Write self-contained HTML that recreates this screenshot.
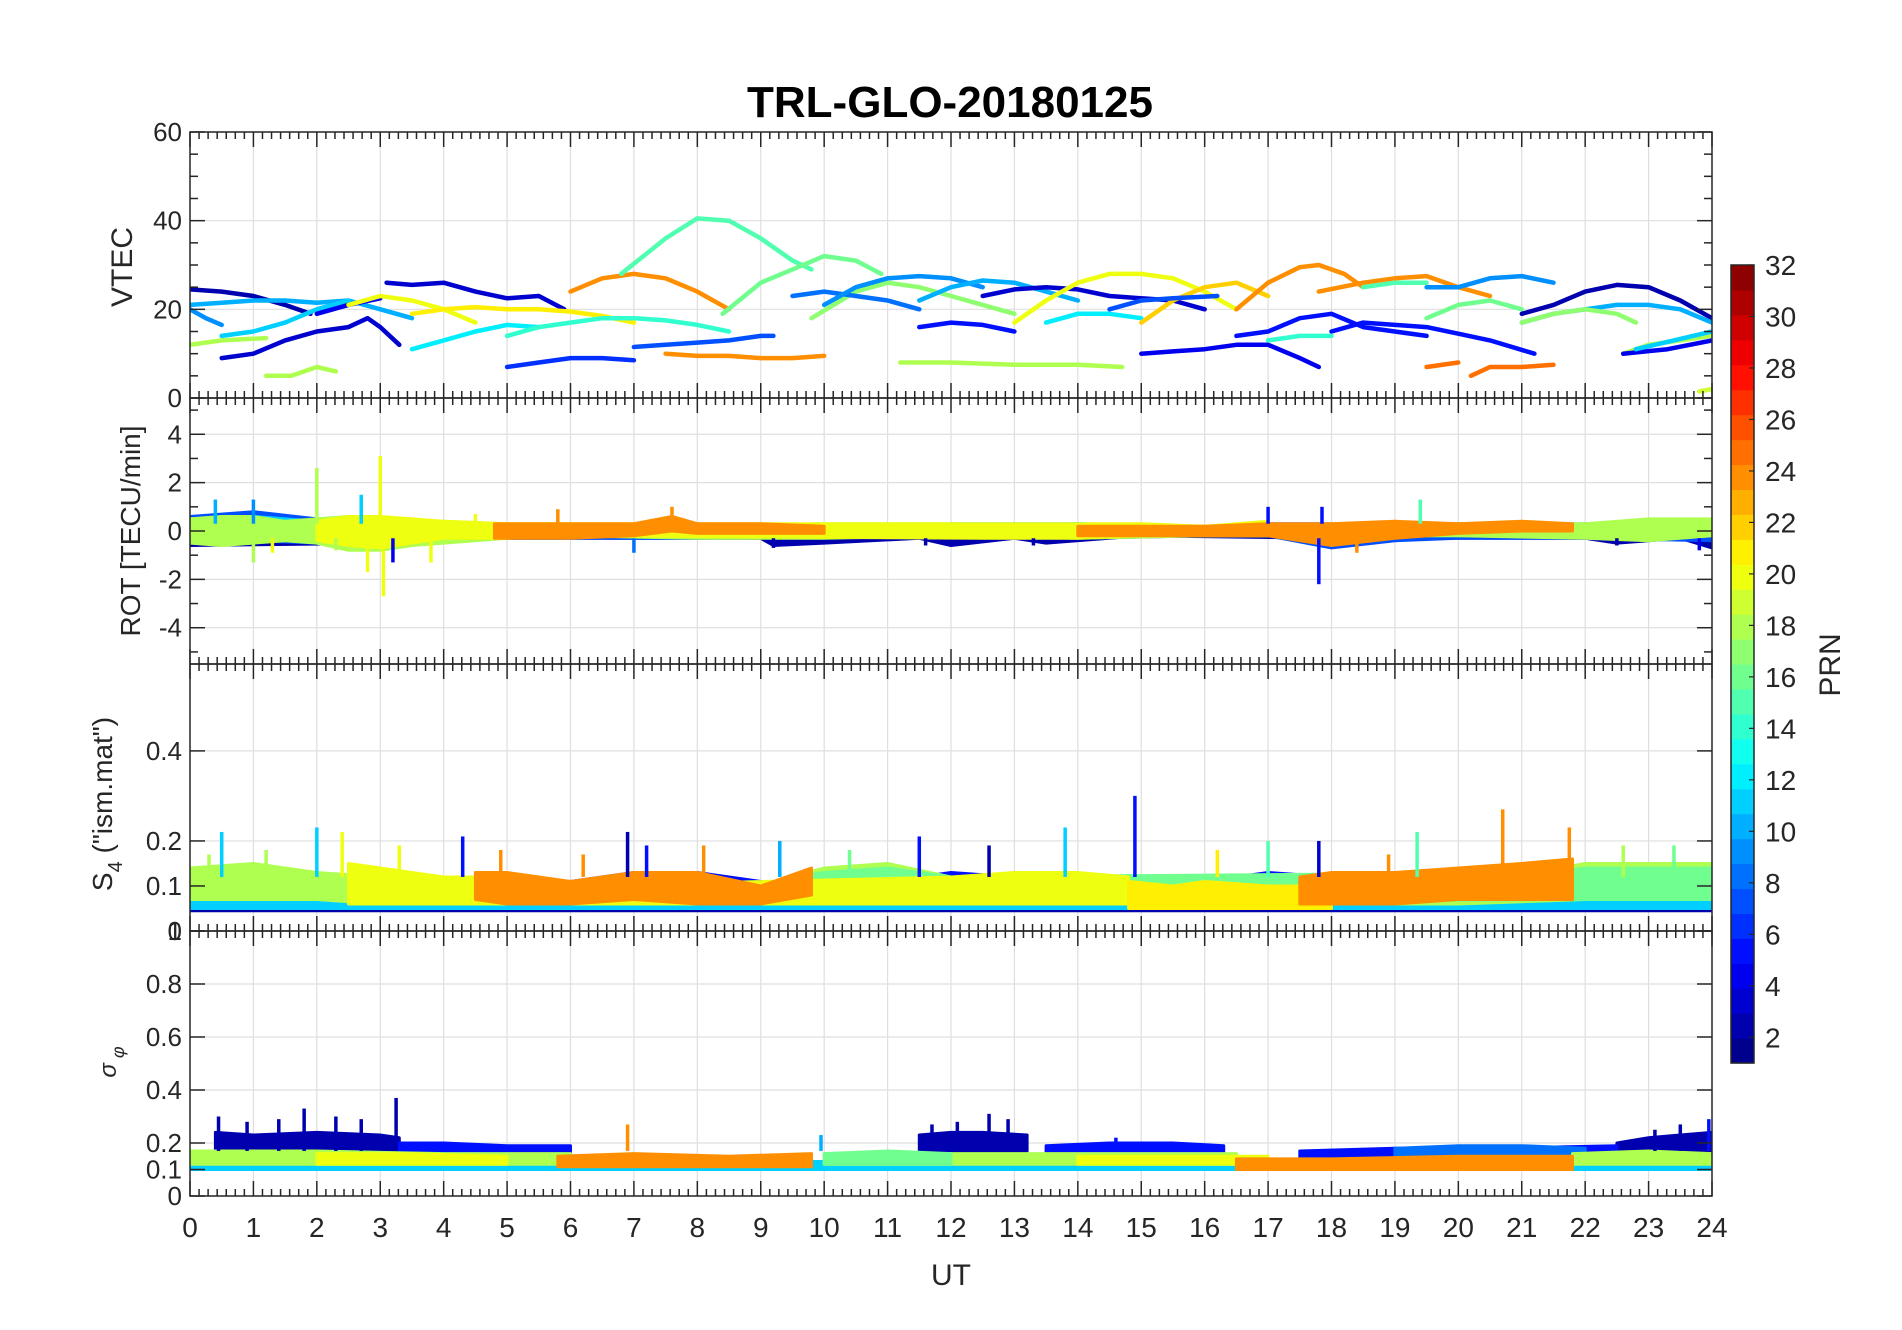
<!DOCTYPE html>
<html><head><meta charset="utf-8"><title>TRL-GLO-20180125</title>
<style>
html,body{margin:0;padding:0;background:#fff;}
svg{display:block;font-family:"Liberation Sans",Arial,sans-serif;}
</style></head>
<body>
<svg id="fig" width="1902" height="1330" viewBox="0 0 1902 1330" xmlns="http://www.w3.org/2000/svg">
<rect x="0" y="0" width="1902" height="1330" fill="#fff"/>
<text x="950" y="117" font-size="44" font-weight="bold" text-anchor="middle" fill="#000">TRL-GLO-20180125</text>
<text transform="translate(132,267) rotate(-90)" font-size="30" text-anchor="middle" fill="#262626">VTEC</text>
<text transform="translate(140,531) rotate(-90)" font-size="28" text-anchor="middle" fill="#262626">ROT [TECU/min]</text>
<text transform="translate(112,804) rotate(-90)" font-size="28" text-anchor="middle" fill="#262626">S<tspan font-size="20" dy="10">4</tspan><tspan dy="-10"> ("ism.mat")</tspan></text>
<text transform="translate(116,1062) rotate(-90)" font-size="24" font-style="italic" text-anchor="middle" fill="#262626">σ<tspan font-size="18" dy="8"> φ</tspan></text>
<text x="951" y="1285" font-size="30" text-anchor="middle" fill="#262626">UT</text>
<text transform="translate(1840,665) rotate(-90)" font-size="30" text-anchor="middle" fill="#262626">PRN</text>
</svg>
<script>
// ---------- VTEC arcs ----------
const arcPrns = [2,3,9,10,11,18,18,4,3,20,21,12,14,6,24,15,24,7,16,17,8,9,10,5,3,18,20,12,4,22,24,5,5,7,14,24,15,9,16,25,25,2,10,17,18,4,11,19];
const arcHours = [
 [0,0.5,1,1.5,1.9],
 [0.5,1,1.5,2,2.5,2.8,3.0,3.3],
 [0,0.25,0.5],
 [0,0.5,1,1.5,2,2.5,3,3.5],
 [0.5,1,1.5,2,2.5],
 [0,0.5,1.2],
 [1.2,1.6,2,2.3],
 [2.0,2.5,3.0],
 [3.1,3.5,4,4.5,5,5.5,5.9],
 [2.5,3,3.5,4,4.5],
 [3.5,4,4.5,5,5.5,6,6.5,7],
 [3.5,4,4.5,5,5.5],
 [5,5.5,6,6.5,7,7.5,8,8.5],
 [5,5.5,6,6.5,7],
 [6,6.5,7,7.5,8,8.5],
 [6.8,7.5,8,8.5,9,9.5,9.8],
 [7.5,8,8.5,9,9.5,10],
 [7,7.5,8,8.5,9,9.2],
 [8.4,9,9.5,10,10.5,10.9],
 [9.8,10.5,11,11.5,12,12.5,13],
 [9.5,10,10.5,11,11.5],
 [10,10.5,11,11.5,12,12.5],
 [11.5,12,12.5,13,13.5,14],
 [11.5,12,12.5,13],
 [12.5,13,13.5,14,14.5,15.5,16],
 [11.2,12,13,14,14.7],
 [13,13.5,14,14.5,15,15.5,16,16.5],
 [13.5,14,14.5,15],
 [15,15.5,16,16.5,17,17.5,17.8],
 [15,15.5,16,16.5,17],
 [16.5,17,17.5,17.8,18.2,18.5],
 [16.5,17,17.5,18,18.5,19,19.5],
 [18,18.5,19,19.5,20,20.5,21.2],
 [14.5,15,15.5,16.2],
 [17,17.5,18],
 [17.8,18.5,19,19.5,20,20.5],
 [18.5,19,19.5],
 [19.5,20,20.5,21,21.5],
 [19.5,20,20.5,21],
 [19.5,20],
 [20.2,20.5,21,21.5],
 [21,21.5,22,22.5,23,23.5,24],
 [21,21.5,22,22.5,23,23.5,24],
 [21,21.5,22,22.5,22.8],
 [22.6,23,23.5,24],
 [22.6,23.3,24],
 [22.8,23.4,24],
 [23.8,24]
];
const arcVtec = [
 [24.5,24,23,21,19],
 [9,10,13,15,16,18,16,12],
 [20,18,16.5],
 [21,21.5,22,22,21.5,22,20,18],
 [14,15,17,20,22],
 [12,13,13.5],
 [5,5,7,6],
 [19,21,22.5],
 [26,25.5,26,24,22.5,23,20],
 [21,23,22,20,17],
 [19,20,20.5,20,20,19.5,18.5,17],
 [11,13,15,16.5,16],
 [14,16,17,18,18,17.5,16.5,15],
 [7,8,9,9,8.5],
 [24,27,28,27,24,20],
 [28,36,40.5,40,36,31,29],
 [10,9.5,9.5,9,9,9.5],
 [11.5,12,12.5,13,14,14],
 [19,26,29,32,31,28],
 [18,24,26,25,23,21,19],
 [23,24,23,22,20],
 [21,25,27,27.5,27,25],
 [22,25,26.5,26,24,22],
 [16,17,16.5,15],
 [23,24.5,25,24.5,23,22,20],
 [8,8,7.5,7.5,7],
 [17,22,26,28,28,27,24,20],
 [17,19,19,18],
 [10,10.5,11,12,12,9,7],
 [17,22,25,26,23],
 [20,26,29.5,30,28,25],
 [14,15,18,19,16,15,14],
 [15,17,16.5,16,14.5,13,10],
 [20,22,22.5,23],
 [13,14,14],
 [24,26,27,27.5,25,23],
 [25,26,26],
 [25,25,27,27.5,26],
 [18,21,22,20],
 [7,8],
 [5,7,7,7.5],
 [19,21,24,25.5,25,22,18],
 [17,19,20,21,21,20,17],
 [17,19,20,19,17],
 [10,12,13,14],
 [10,11,13],
 [11,13,15],
 [1.5,2]
];

// ---------- ROT bands ----------
const rotPrns = [2,7,11,18,20,24,24];
const rotHours = [
 [0,3.5,4,6,9,9.2,10,11.5,12,13,13.5,15,18,20,22,22.5,23.5,24],
 [0,1,2,3,4,6,8,10,12,14,16,17,18,19,20,22,24],
 [0,1,2,3,4,6,8,10,12,14,16,18,20,22,24],
 [0,0.5,1,1.5,2,2.5,3,3.5,4,5,6,8,10,12,14,16,18,20,22,23,24],
 [2,2.5,3,3.5,4,5,6,12.5,13,14,15,16,17],
 [4.8,6,7,7.6,8,9,10],
 [14,16,17,18,19,20,21,21.8]
];
const rotLow = [
 [-0.6,-0.5,-0.3,-0.3,-0.3,-0.6,-0.5,-0.3,-0.6,-0.3,-0.5,-0.2,-0.3,-0.3,-0.3,-0.5,-0.3,-0.7],
 [-0.5,-0.4,-0.5,-0.4,-0.3,-0.3,-0.3,-0.2,-0.2,-0.3,-0.2,-0.2,-0.7,-0.4,-0.3,-0.3,-0.4],
 [-0.4,-0.4,-0.3,-0.4,-0.3,-0.2,-0.2,-0.2,-0.2,-0.2,-0.2,-0.2,-0.2,-0.2,-0.2],
 [-0.5,-0.6,-0.5,-0.4,-0.5,-0.8,-0.8,-0.6,-0.5,-0.3,-0.2,-0.3,-0.3,-0.2,-0.3,-0.2,-0.2,-0.2,-0.3,-0.4,-0.2],
 [-0.4,-0.6,-0.7,-0.5,-0.3,-0.3,-0.2,-0.3,-0.3,-0.3,-0.2,-0.2,-0.2],
 [-0.3,-0.3,-0.2,0,-0.1,-0.1,-0.1],
 [-0.2,-0.2,-0.2,-0.6,-0.3,-0.1,0,0]
];
const rotHigh = [
 [0.1,0.1,0.2,0.2,0.1,0.0,0.1,0.1,0.0,0.1,0.0,0.2,0.1,0.1,0.1,0.0,0.1,0.0],
 [0.6,0.8,0.5,0.5,0.3,0.2,0.2,0.2,0.2,0.3,0.2,0.3,0.3,0.3,0.3,0.2,0.4],
 [0.5,0.6,0.4,0.5,0.3,0.2,0.3,0.2,0.3,0.3,0.2,0.2,0.3,0.3,0.4],
 [0.5,0.6,0.6,0.4,0.5,0.6,0.5,0.4,0.4,0.3,0.3,0.2,0.3,0.3,0.2,0.2,0.3,0.3,0.3,0.5,0.5],
 [0.4,0.6,0.6,0.5,0.4,0.3,0.3,0.3,0.3,0.3,0.3,0.2,0.4],
 [0.3,0.3,0.3,0.6,0.3,0.3,0.2],
 [0.2,0.2,0.3,0.3,0.4,0.3,0.4,0.3]
];
const rotSpikeHours = [0.4,1.0,1.0,1.3,2.0,2.3,2.7,2.8,3.0,3.05,3.2,3.8,4.5,5.8,7.0,7.6,9.2,11.6,13.3,17.0,17.8,17.85,18.4,19.4,22.5,23.8];
const rotSpikeValues = [1.3,1.3,-1.3,-0.9,2.6,-0.8,1.5,-1.7,3.1,-2.7,-1.3,-1.3,0.7,0.9,-0.9,1.0,-0.7,-0.6,-0.6,1.0,-2.2,1.0,-0.9,1.3,-0.6,-0.8];
const rotSpikePrns = [10,9,18,20,18,18,11,20,20,20,4,20,20,24,8,24,2,2,2,5,5,5,24,15,2,4];

// ---------- S4 bands ----------
const s4Prns = [2,5,11,18,16,20,21,24,24];
const s4Hours = [
 [0,6,12,18,24],
 [4,5,6,7,8,9,10,11.5,12,13,14,15,16,17,18,19,20,24],
 [0,1,2,3,4,5,6,10,12,14,16,18,20,22,24],
 [0,1,2,3,4,5,6,9,10,11,12,13,14,15,16,18,20,22,23,24],
 [9.5,10,11,12,21.5,22,23,24],
 [2.5,3,4,5,6,12,13,14,14.8],
 [14.8,15.5,16,17,18],
 [4.5,5,6,7,8,9,9.8],
 [17.5,18,19,20,21,21.8]
];
const s4Low = [
 [0.045,0.045,0.045,0.045,0.045],
 [0.05,0.05,0.05,0.05,0.05,0.05,0.05,0.05,0.05,0.05,0.05,0.05,0.05,0.05,0.05,0.05,0.05,0.05],
 [0.05,0.05,0.05,0.05,0.05,0.05,0.05,0.05,0.05,0.05,0.05,0.05,0.05,0.05,0.05],
 [0.07,0.07,0.07,0.06,0.06,0.06,0.06,0.06,0.06,0.06,0.06,0.06,0.06,0.06,0.06,0.06,0.06,0.07,0.07,0.07],
 [0.06,0.06,0.06,0.06,0.07,0.07,0.07,0.07],
 [0.06,0.06,0.06,0.06,0.06,0.06,0.06,0.06,0.06],
 [0.05,0.05,0.05,0.05,0.05],
 [0.07,0.06,0.06,0.07,0.06,0.06,0.08],
 [0.06,0.06,0.06,0.07,0.07,0.07]
];
const s4High = [
 [0.07,0.07,0.07,0.07,0.07],
 [0.11,0.12,0.11,0.13,0.13,0.11,0.1,0.12,0.13,0.12,0.12,0.12,0.11,0.13,0.12,0.1,0.08,0.07],
 [0.13,0.14,0.12,0.1,0.08,0.07,0.07,0.07,0.08,0.08,0.07,0.07,0.07,0.08,0.1],
 [0.14,0.15,0.13,0.12,0.1,0.1,0.1,0.1,0.14,0.15,0.12,0.12,0.11,0.12,0.1,0.1,0.1,0.15,0.15,0.15],
 [0.12,0.13,0.14,0.12,0.13,0.14,0.14,0.14],
 [0.15,0.14,0.12,0.12,0.1,0.12,0.13,0.13,0.12],
 [0.11,0.1,0.11,0.1,0.1],
 [0.13,0.13,0.11,0.13,0.13,0.1,0.14],
 [0.12,0.13,0.13,0.14,0.15,0.16]
];
const s4SpikeHours = [0.3,0.5,1.2,2.0,2.4,3.3,4.3,4.9,6.2,6.9,7.2,8.1,9.3,10.4,11.5,12.6,13.8,14.9,16.2,17.0,17.8,18.9,19.35,20.7,21.75,22.6,23.4];
const s4SpikeValues = [0.17,0.22,0.18,0.23,0.22,0.19,0.21,0.18,0.17,0.22,0.19,0.19,0.2,0.18,0.21,0.19,0.23,0.3,0.18,0.2,0.2,0.17,0.22,0.27,0.23,0.19,0.19];
const s4SpikePrns = [18,11,18,11,20,20,5,24,24,2,5,24,10,16,5,2,11,5,21,15,3,24,15,24,24,18,16];

// ---------- sigma-phi bands ----------
const sigPrns = [11,2,2,2,5,5,5,8,18,18,18,20,20,16,24,24];
const sigHours = [
 [0,24],
 [0.4,1,2,3,3.3],
 [11.5,12,12.5,13.2],
 [22.5,23,23.5,24],
 [3.3,4,5,6],
 [13.5,14.5,15.5,16.3],
 [17.5,19,20.5,22.5],
 [19,20,21,22],
 [0,2,4,6],
 [10,12,14,16.5],
 [21.8,23,24],
 [2,3.5,5],
 [14,15.5,17],
 [10,11,12],
 [5.8,7,8.5,9.8],
 [16.5,18,20,21.8]
];
const sigLow = [
 [0.1,0.1],
 [0.17,0.17,0.17,0.17,0.17],
 [0.17,0.17,0.17,0.17],
 [0.16,0.17,0.17,0.17],
 [0.16,0.16,0.16,0.16],
 [0.16,0.16,0.16,0.16],
 [0.14,0.14,0.14,0.14],
 [0.14,0.14,0.14,0.14],
 [0.12,0.12,0.12,0.12],
 [0.12,0.12,0.12,0.12],
 [0.12,0.12,0.12],
 [0.12,0.12,0.12],
 [0.12,0.12,0.12],
 [0.12,0.12,0.12],
 [0.11,0.11,0.11,0.11],
 [0.1,0.1,0.1,0.1]
];
const sigHigh = [
 [0.13,0.13],
 [0.24,0.23,0.24,0.23,0.22],
 [0.23,0.24,0.24,0.23],
 [0.2,0.22,0.23,0.24],
 [0.2,0.2,0.19,0.19],
 [0.19,0.2,0.2,0.19],
 [0.17,0.18,0.18,0.19],
 [0.18,0.19,0.19,0.18],
 [0.17,0.17,0.16,0.16],
 [0.16,0.16,0.16,0.16],
 [0.16,0.17,0.16],
 [0.16,0.16,0.15],
 [0.15,0.15,0.15],
 [0.16,0.17,0.16],
 [0.15,0.16,0.15,0.16],
 [0.14,0.14,0.15,0.15]
];
const sigSpikeHours = [0.45,0.9,1.4,1.8,2.3,2.7,3.25,6.9,9.95,11.7,12.1,12.6,12.9,14.6,23.1,23.5,23.95];
const sigSpikeValues = [0.3,0.28,0.29,0.33,0.3,0.29,0.37,0.27,0.23,0.27,0.28,0.31,0.29,0.22,0.25,0.27,0.29];
const sigSpikePrns = [2,2,2,2,2,2,2,24,10,2,2,2,2,5,2,2,5];

// ---------- axis tick labels ----------
const xTickLabels = ["0","1","2","3","4","5","6","7","8","9","10","11","12","13","14","15","16","17","18","19","20","21","22","23","24"];
const vtecTicks = [0,20,40,60];
const rotTicks = [-4,-2,0,2,4];
const s4Ticks = [0,0.1,0.2,0.4];
const sigTicks = [0,0.1,0.2,0.4,0.6,0.8,1];
const cbTicks = [2,4,6,8,10,12,14,16,18,20,22,24,26,28,30,32];

// ---------- rendering ----------
const NS = "http://www.w3.org/2000/svg";
const svg = document.getElementById("fig");
const X0 = 190, X1 = 1712;
function sx(h){ return X0 + h * (X1 - X0) / 24; }
function jet(p){
  const x = (p - 0.5) / 32;
  const c = v => Math.round(255 * Math.max(0, Math.min(1, v)));
  return "rgb(" + c(1.5 - Math.abs(4*x - 3)) + "," + c(1.5 - Math.abs(4*x - 2)) + "," + c(1.5 - Math.abs(4*x - 1)) + ")";
}
function el(tag, attrs, parent){
  const e = document.createElementNS(NS, tag);
  for (const k in attrs) e.setAttribute(k, attrs[k]);
  (parent || svg).appendChild(e);
  return e;
}
const panels = [
  {id:"vtec", top:132, bot:398, min:0, max:60, ticks:vtecTicks, minor:5, base:0},
  {id:"rot", top:398, bot:664, min:-5.5, max:5.5, ticks:rotTicks, minor:1, base:0.3},
  {id:"s4", top:664, bot:931, min:0, max:0.593, ticks:s4Ticks, minor:0, base:0.12},
  {id:"sigma", top:931, bot:1196, min:0, max:1, ticks:sigTicks, minor:0, base:0.17}
];
function syf(p){ return v => p.bot - (v - p.min) / (p.max - p.min) * (p.bot - p.top); }

const defs = el("defs", {});
panels.forEach(p => {
  const cp = el("clipPath", {id: "clip-" + p.id}, defs);
  el("rect", {x: X0, y: p.top, width: X1 - X0, height: p.bot - p.top}, cp);
});

function drawGrid(p){
  const g = el("g", {});
  
  
  const sy = syf(p);
  for (let h = 1; h < 24; h++){
    const l = el("line", {x1: sx(h), x2: sx(h), y1: p.top, y2: p.bot, stroke: "#dfdfdf", "stroke-width": 1.2}, g);
    
    
  }
  p.ticks.forEach(v => {
    const l = el("line", {x1: X0, x2: X1, y1: sy(v), y2: sy(v), stroke: "#dfdfdf", "stroke-width": 1.2}, g);
    
    
  });
}
function drawBands(p, prns, hours, lows, highs, spH, spV, spP){
  const sy = syf(p);
  const g = el("g", {"clip-path": "url(#clip-" + p.id + ")"});
  
  
  prns.forEach((prn, i) => {
    const hs = hours[i];
    let pts = [];
    for (let j = 0; j < hs.length; j++) pts.push(sx(hs[j]).toFixed(1) + "," + sy(highs[i][j]).toFixed(1));
    for (let j = hs.length - 1; j >= 0; j--) pts.push(sx(hs[j]).toFixed(1) + "," + sy(lows[i][j]).toFixed(1));
    const poly = el("polygon", {points: pts.join(" "), fill: jet(prn), stroke: jet(prn), "stroke-width": 3, "stroke-linejoin": "round"}, g);
    
    
  });
  spH.forEach((h, i) => {
    const base = spV[i] >= 0 ? Math.min(p.base, spV[i]) : -0.3;
    const l = el("line", {x1: sx(h), x2: sx(h), y1: sy(base), y2: sy(spV[i]), stroke: jet(spP[i]), "stroke-width": 3.5}, g);
    
    
  });
}
function drawVtec(p){
  const sy = syf(p);
  const g = el("g", {"clip-path": "url(#clip-" + p.id + ")"});
  
  
  arcPrns.forEach((prn, i) => {
    const pts = arcHours[i].map((h, j) => sx(h).toFixed(1) + "," + sy(arcVtec[i][j]).toFixed(1)).join(" ");
    const pl = el("polyline", {points: pts, fill: "none", stroke: jet(prn), "stroke-width": 4.5, "stroke-linejoin": "round", "stroke-linecap": "round"}, g);
    
    
  });
}
function drawAxes(p, showX){
  const sy = syf(p);
  const g = el("g", {stroke: "#262626", "stroke-width": 1.5, fill: "none"});
  
  
  const box = el("rect", {x: X0, y: p.top, width: X1 - X0, height: p.bot - p.top}, g);
  
  
  for (let h = 0; h <= 24; h++){
    el("line", {x1: sx(h), x2: sx(h), y1: p.bot, y2: p.bot - 15}, g);
    el("line", {x1: sx(h), x2: sx(h), y1: p.top, y2: p.top + 15}, g);
    if (h < 24) for (let k = 1; k < 7; k++){
      const x = sx(h + k / 7);
      el("line", {x1: x, x2: x, y1: p.bot, y2: p.bot - 7}, g);
      el("line", {x1: x, x2: x, y1: p.top, y2: p.top + 7}, g);
    }
  }
  p.ticks.forEach(v => {
    el("line", {x1: X0, x2: X0 + 15, y1: sy(v), y2: sy(v)}, g);
    el("line", {x1: X1, x2: X1 - 15, y1: sy(v), y2: sy(v)}, g);
    const t = el("text", {x: X0 - 8, y: sy(v) + 9, "font-size": 26, "text-anchor": "end", fill: "#262626", stroke: "none"}, svg);
    t.textContent = String(v);
    
    
  });
  if (p.minor){
    for (let v = Math.ceil(p.min / p.minor) * p.minor; v <= p.max; v += p.minor){
      if (p.ticks.indexOf(v) >= 0) continue;
      el("line", {x1: X0, x2: X0 + 8, y1: sy(v), y2: sy(v)}, g);
      el("line", {x1: X1, x2: X1 - 8, y1: sy(v), y2: sy(v)}, g);
    }
  }
  if (showX){
    xTickLabels.forEach((lab, h) => {
      const t = el("text", {x: sx(h), y: 1237, "font-size": 28, "text-anchor": "middle", fill: "#262626"}, svg);
      t.textContent = lab;
      
      
    });
  }
}

panels.forEach(drawGrid);
drawVtec(panels[0]);
drawBands(panels[1], rotPrns, rotHours, rotLow, rotHigh, rotSpikeHours, rotSpikeValues, rotSpikePrns);
drawBands(panels[2], s4Prns, s4Hours, s4Low, s4High, s4SpikeHours, s4SpikeValues, s4SpikePrns);
drawBands(panels[3], sigPrns, sigHours, sigLow, sigHigh, sigSpikeHours, sigSpikeValues, sigSpikePrns);
panels.forEach((p, i) => drawAxes(p, i === 3));

// ---------- colorbar ----------
const CB_X = 1731, CB_W = 23, CB_TOP = 265, CB_BOT = 1063;
const cbY = v => CB_BOT - (v - 1) / 31 * (CB_BOT - CB_TOP);
const cb = el("g", {});


for (let p = 1; p <= 32; p++){
  const h = (CB_BOT - CB_TOP) / 32;
  const r = el("rect", {x: CB_X, y: CB_BOT - p * h, width: CB_W, height: h + 0.6, fill: jet(p)}, cb);
  
  
}
el("rect", {x: CB_X, y: CB_TOP, width: CB_W, height: CB_BOT - CB_TOP, fill: "none", stroke: "#262626", "stroke-width": 1.5}, cb);
cbTicks.forEach(v => {
  el("line", {x1: CB_X + CB_W, x2: CB_X + CB_W - 5, y1: cbY(v), y2: cbY(v), stroke: "#262626", "stroke-width": 1.2}, cb);
  const t = el("text", {x: 1765, y: cbY(v) + 10, "font-size": 28, fill: "#262626"}, cb);
  t.textContent = String(v);
  
  
});
</script>
</body></html>
